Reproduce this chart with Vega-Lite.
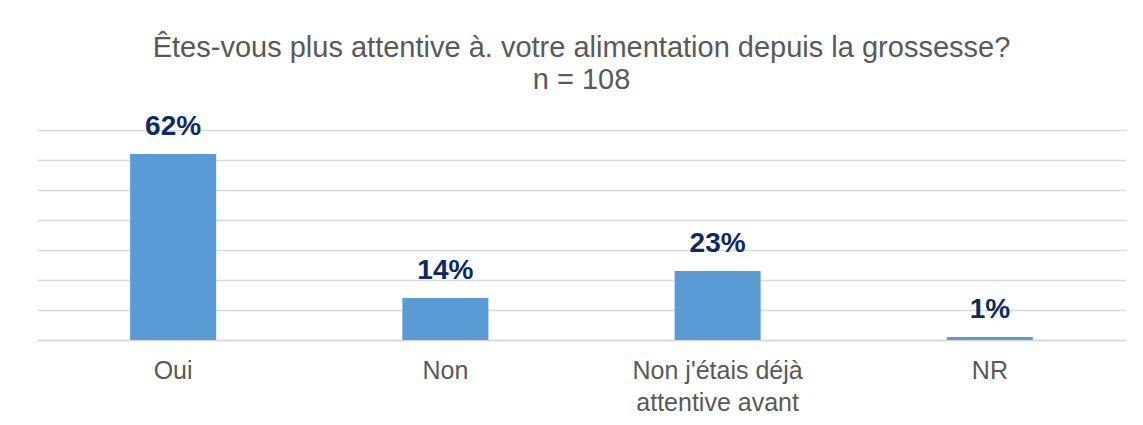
{
  "$schema": "https://vega.github.io/schema/vega-lite/v6.json",
  "autosize": "none",
  "width": 1089,
  "height": 210,
  "padding": {"left": 37, "top": 130, "right": 17, "bottom": 85},
  "background": "white",
  "title": {
    "text": ["Êtes-vous plus attentive à. votre alimentation depuis la grossesse?", "n = 108"],
    "font": "Liberation Sans",
    "fontSize": 29,
    "fontWeight": "normal",
    "color": "#595959",
    "lineHeight": 32,
    "anchor": "middle",
    "frame": "group",
    "baseline": "alphabetic",
    "offset": -5
  },
  "data": {
    "values": [
      {"reponse": "Oui", "pct": 0.62},
      {"reponse": "Non", "pct": 0.14},
      {"reponse": "Non j'étais déjà attentive avant", "pct": 0.23},
      {"reponse": "NR", "pct": 0.01}
    ]
  },
  "encoding": {
    "x": {
      "field": "reponse",
      "type": "nominal",
      "sort": null,
      "scale": {"paddingInner": 0.684, "paddingOuter": 0.342},
      "axis": {
        "title": null,
        "labelAngle": 0,
        "labelFont": "Liberation Sans",
        "labelFontSize": 25,
        "labelColor": "#595959",
        "labelPadding": 18,
        "labelLineHeight": 32,
        "labelExpr": "datum.label == \"Non j'étais déjà attentive avant\" ? [\"Non j'étais déjà\", \"attentive avant\"] : datum.label",
        "ticks": false,
        "domain": true,
        "domainColor": "#D9D9D9",
        "domainWidth": 1.5
      }
    },
    "y": {
      "field": "pct",
      "type": "quantitative",
      "scale": {"domain": [0, 0.7]},
      "axis": {
        "title": null,
        "labels": false,
        "ticks": false,
        "domain": false,
        "values": [0, 0.1, 0.2, 0.3, 0.4, 0.5, 0.6, 0.7],
        "grid": true,
        "gridColor": "#D9D9D9",
        "gridWidth": 1.5
      }
    }
  },
  "layer": [
    {"mark": {"type": "bar", "color": "#5B9BD5"}},
    {
      "mark": {
        "type": "text",
        "font": "Liberation Sans",
        "fontSize": 28,
        "fontWeight": "bold",
        "color": "#0E2A66",
        "baseline": "alphabetic",
        "dy": -19
      },
      "encoding": {"text": {"field": "pct", "type": "quantitative", "format": ".0%"}}
    }
  ],
  "config": {"view": {"stroke": null}}
}
